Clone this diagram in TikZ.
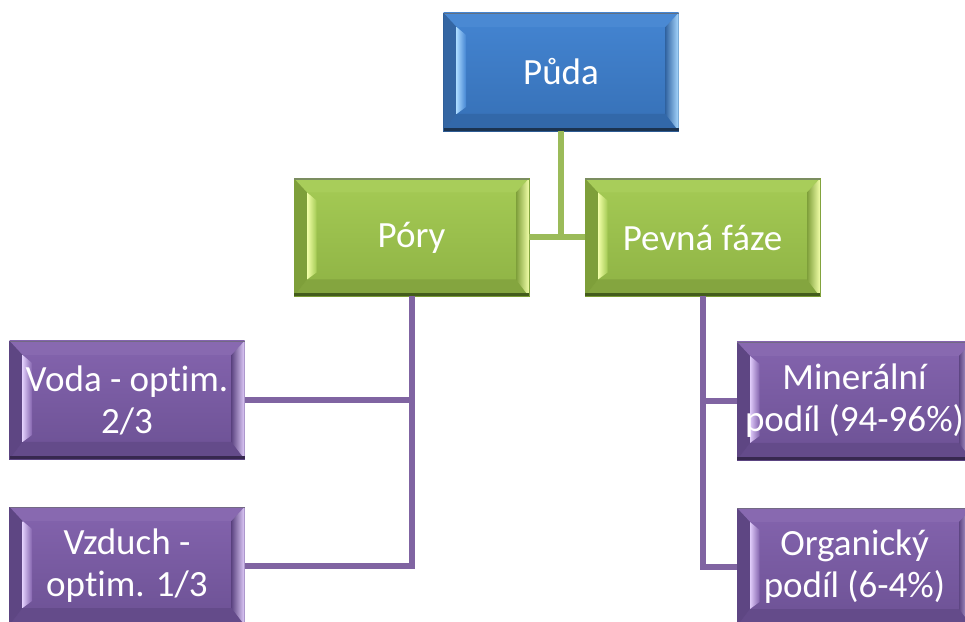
\documentclass[tikz,border=0pt]{standalone}
\usepackage{fontspec}
\setmainfont{Carlito}[Ligatures=NoCommon]
\usetikzlibrary{backgrounds}
\definecolor{bltop}{HTML}{4485D2}
\definecolor{blbot}{HTML}{3670B6}
\definecolor{bledge}{HTML}{2E5C94}
\definecolor{bldark}{HTML}{1B3350}
\definecolor{blhi}{HTML}{A8D8FF}
\definecolor{blshade}{HTML}{3466A3}
\definecolor{grtop}{HTML}{A5CB55}
\definecolor{grbot}{HTML}{8EB244}
\definecolor{gredge}{HTML}{73962F}
\definecolor{grdark}{HTML}{435C1C}
\definecolor{grhi}{HTML}{F2FFA8}
\definecolor{grshade}{HTML}{7E9F3A}
\definecolor{putop}{HTML}{8464AE}
\definecolor{pubot}{HTML}{6C5194}
\definecolor{puedge}{HTML}{5A4380}
\definecolor{pudark}{HTML}{37284F}
\definecolor{puhi}{HTML}{E0CCFA}
\definecolor{pushade}{HTML}{5E4683}
\definecolor{glinec}{HTML}{9BBB59}
\definecolor{plinec}{HTML}{8064A2}
\tikzset{
  bevelbox/.style={
    rectangle, minimum width=235pt, minimum height=118pt, inner sep=0pt, outer sep=0pt,
    text=white, font=\fontsize{37}{42}\selectfont, align=center},
  gline/.style={draw=glinec, line width=6pt},
  pline/.style={draw=plinec, line width=6pt}
}
\newcommand\bevdeco[2]{%
  \begin{scope}[shift={(#1.center)}]
    \shadedraw[top color=#2top, bottom color=#2bot, draw=#2edge, line width=0.8pt] (-117.5,-59) rectangle (117.5,59);
    \fill[#2top!97!white] (-117.5,59) -- (117.5,59) -- (104.5,45) -- (-104.5,45) -- cycle;
    \fill[#2bot!93!black] (-117.5,-59) -- (117.5,-59) -- (104.5,-42) -- (-104.5,-42) -- cycle;
    \fill[#2shade] (-117.5,-59) -- (-117.5,59) -- (-104.5,45) -- (-104.5,-42) -- cycle;
    \shade[left color=#2hi, right color=#2top] (-104.5,45) -- (-95,37) -- (-95,-35) -- (-104.5,-42) -- cycle;
    \shade[left color=#2shade, right color=#2hi] (117.5,59) -- (117.5,-59) -- (104.5,-42) -- (104.5,45) -- cycle;
    \fill[#2dark] (-117.5,-59) rectangle (117.5,-56);
    \fill[#2dark!70] (-117.5,59) rectangle (117.5,57.8);
  \end{scope}}
\begin{document}
\begin{tikzpicture}[x=1pt,y=1pt]
\useasboundingbox (0,0) rectangle (965,621);
\node[bevelbox] (puda) at (561,549) {Půda};
\node[bevelbox] (pory) at (411.5,383.5) {Póry};
\node[bevelbox] (pevna) at (702.5,383.5) {Pevná fáze};
\node[bevelbox] (voda) at (127,221) {Voda - optim.\\2/3};
\node[bevelbox] (vzduch) at (127,55) {Vzduch -\\optim. 1/3};
\node[bevelbox] (miner) at (854.5,220) {Minerální\\podíl (94-96\%)};
\node[bevelbox] (organ) at (854.5,54) {Organický\\podíl (6-4\%)};
\begin{pgfonlayer}{background}
\bevdeco{puda}{bl}
\bevdeco{pory}{gr}
\bevdeco{pevna}{gr}
\bevdeco{voda}{pu}
\bevdeco{vzduch}{pu}
\bevdeco{miner}{pu}
\bevdeco{organ}{pu}
\end{pgfonlayer}
\draw[gline] (puda.south) |- (pory.east);
\draw[gline] (puda.south) |- (pevna.west);
\draw[pline] (pory.south) |- (voda.east);
\draw[pline] (pory.south) |- (vzduch.east);
\draw[pline] (pevna.south) |- (miner.west);
\draw[pline] (pevna.south) |- (organ.west);
\end{tikzpicture}
\end{document}
